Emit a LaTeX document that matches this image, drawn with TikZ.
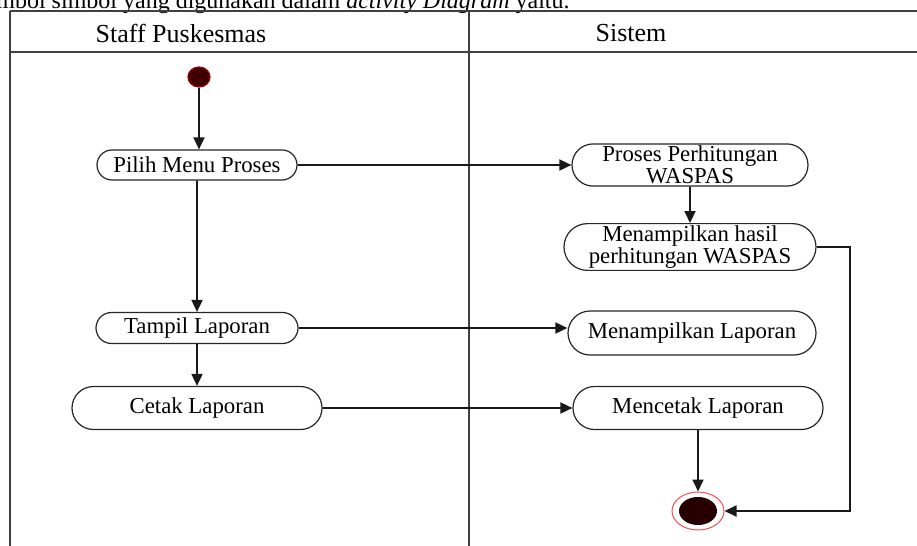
\documentclass[tikz,border=0pt]{standalone}
\usepackage{fontspec}
\setmainfont{Liberation Serif}
\usepackage{tikz}
\usetikzlibrary{shapes.misc,shapes.geometric,arrows.meta}

\tikzset{
  aksi/.style={draw=black!85, line width=0.6pt, rounded rectangle, inner sep=1pt,
    align=center, font=\fontsize{11.4}{11}\selectfont, fill=white},
  alur/.style={draw=black!90, line width=0.9pt, -{Triangle[length=6pt,width=5.5pt]}},
  garis/.style={draw=black!75, line width=1.1pt}
}

\begin{document}
\begin{tikzpicture}[x=0.5pt,y=0.5pt,yscale=-1]
\useasboundingbox (0,0) rectangle (917,546);

% Text Node (sisa kalimat di atas tabel)
\node[anchor=west, inner sep=0pt, font=\fontsize{12}{12}\selectfont] (kalimat) at (-4,3)
  {mbol simbol yang digunakan dalam \textit{activity Diagram} yaitu.};

%Swimlane
\draw[garis] (10,11) -- (930,11);
\draw[garis] (10,52) -- (930,52);
\draw[garis] (10,11) -- (10,560);
\draw[garis] (469,11) -- (469,560);

% Text Node
\node[font=\fontsize{13}{13}\selectfont] (lajur1) at (181,33) {Staff Puskesmas};
% Text Node
\node[font=\fontsize{13}{13}\selectfont] (lajur2) at (631,33) {Sistem};

% Initial
\node[ellipse, draw=red!60!black, line width=0.6pt, fill=red!25!black,
  minimum width=11pt, minimum height=10pt, inner sep=0pt] (mulai) at (199,77) {};

% Staff Puskesmas
\node[aksi, minimum width=102pt, minimum height=15pt] (pilih) at (197,165) {Pilih Menu Proses};
\node[aksi, minimum width=103pt, minimum height=15.5pt] (tampil) at (197,328) {Tampil Laporan};
\node[aksi, minimum width=127pt, minimum height=21.5pt] (cetak) at (197,408) {Cetak Laporan};

% Sistem
\node[aksi, minimum width=120pt, minimum height=17pt] (proses) at (690,165) {Proses Perhitungan\\WASPAS};
\node[aksi, minimum width=128pt, minimum height=21.5pt] (hasil) at (690,247) {Menampilkan hasil\\perhitungan WASPAS};
\node[aksi, minimum width=126pt, minimum height=22pt] (laporan) at (692,333) {Menampilkan Laporan};
\node[aksi, minimum width=127pt, minimum height=21.5pt] (mencetak) at (698,408) {Mencetak Laporan};

% Final
\node[ellipse, draw=red!70, line width=0.5pt, minimum width=26pt, minimum height=19pt,
  inner sep=0pt] (akhir) at (698,511) {};
\node[ellipse, fill=red!15!black, minimum width=19pt, minimum height=14pt,
  inner sep=0pt] (akhirisi) at (akhir.center) {};

% Arrows
\draw[alur] (mulai) -- (mulai |- pilih.north);
\draw[alur] (pilih) -- (tampil);
\draw[alur] (tampil) -- (cetak);
\draw[alur] (pilih) -- (proses);
\draw[alur] (tampil.east) -- (laporan.west |- tampil.east);
\draw[alur] (cetak) -- (mencetak);
\draw[alur] (proses) -- (hasil);
\draw[alur] (mencetak) -- (akhir);
\draw[alur] (hasil.east) -- ++(33,0) |- (akhir.east);

\end{tikzpicture}
\end{document}
